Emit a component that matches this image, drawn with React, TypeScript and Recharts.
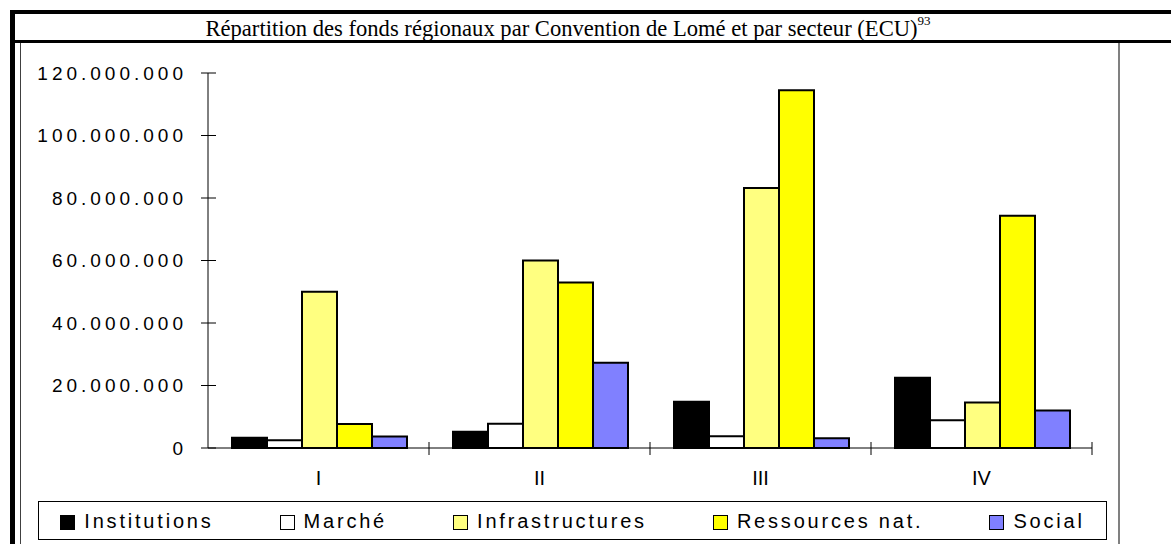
import React from 'react';
import { BarChart, Bar, XAxis, YAxis } from 'recharts';

const categories = ['I', 'II', 'III', 'IV'];
const institutions = [3300000, 5200000, 14800000, 22500000];
const marche = [2500000, 7800000, 3800000, 8900000];
const infrastructures = [50000000, 60000000, 83200000, 14600000];
const ressources = [7700000, 53000000, 114500000, 74300000];
const social = [3700000, 27300000, 3100000, 12000000];
const yTicks = [0, 20000000, 40000000, 60000000, 80000000, 100000000, 120000000];

const series = [
  { key: 'institutions', name: 'Institutions', values: institutions, color: '#000000' },
  { key: 'marche', name: 'Marché', values: marche, color: '#FFFFFF' },
  { key: 'infrastructures', name: 'Infrastructures', values: infrastructures, color: '#FFFF80' },
  { key: 'ressources', name: 'Ressources nat.', values: ressources, color: '#FFFF00' },
  { key: 'social', name: 'Social', values: social, color: '#8080FF' },
];

const data = categories.map((cat, i) => {
  const row: any = { cat };
  series.forEach((s) => { row[s.key] = s.values[i]; });
  return row;
});

const W = 1171;
const H = 544;
const PLOT_LEFT = 208;
const PLOT_RIGHT = 1092;
const PLOT_TOP = 73;
const PLOT_BOTTOM = 448;
const Y_AXIS_W = 188;
const X_AXIS_H = 30;
const BAND = (PLOT_RIGHT - PLOT_LEFT) / categories.length;

const SANS = '"Liberation Sans", Arial, sans-serif';
const SERIF = '"Liberation Serif", "Times New Roman", serif';

const fmt = (v: number) => String(v).replace(/\B(?=(\d{3})+(?!\d))/g, '.');

const YTick = (props: any) => {
  const { y, payload } = props;
  return (
    <g>
      <line x1={PLOT_LEFT - 7} x2={PLOT_LEFT + 8} y1={y} y2={y} stroke="#000" strokeWidth={1} />
      <text
        x={183 + 4}
        y={y}
        dy="0.36em"
        textAnchor="end"
        fontFamily={SANS}
        fontSize={19}
        letterSpacing={4}
        fill="#000"
      >
        {fmt(payload.value)}
      </text>
    </g>
  );
};

const XTick = (props: any) => {
  const { x, payload } = props;
  return (
    <g>
      <line x1={x + BAND / 2} x2={x + BAND / 2} y1={PLOT_BOTTOM - 6} y2={PLOT_BOTTOM + 7} stroke="#000" strokeWidth={1} />
      <text x={x} y={485} textAnchor="middle" fontFamily={SANS} fontSize={20} fill="#000">
        {payload.value}
      </text>
    </g>
  );
};

export default function App() {
  return (
    <div style={{ position: 'absolute', left: 0, top: 0, width: W, height: H, background: '#fff', overflow: 'hidden' }}>
      <svg width={W} height={H} style={{ position: 'absolute', left: 0, top: 0 }}>
        <rect x={10} y={10} width={W - 10} height={4} fill="#000" />
        <rect x={10} y={10} width={5} height={H - 10} fill="#000" />
        <rect x={15} y={40} width={W - 15} height={3} fill="#000" />
        <rect x={20} y={43} width={1} height={H - 43} fill="#404040" />
        <rect x={1118} y={43} width={2} height={H - 43} fill="#808080" />
        <text x={568} y={36} textAnchor="middle" fontFamily={SERIF} fontSize={22.6} fill="#000">
          Répartition des fonds régionaux par Convention de Lomé et par secteur (ECU)
          <tspan fontSize={13} dy={-11}>93</tspan>
        </text>
      </svg>
      <div style={{ position: 'absolute', left: 0, top: 0 }}>
        <BarChart
          width={W}
          height={H}
          data={data}
          margin={{ top: PLOT_TOP, right: W - PLOT_RIGHT, bottom: H - PLOT_BOTTOM - X_AXIS_H, left: PLOT_LEFT - Y_AXIS_W }}
          barCategoryGap={24}
          barGap={0}
        >
          <XAxis
            dataKey="cat"
            height={X_AXIS_H}
            axisLine={{ stroke: '#000', strokeWidth: 1 }}
            tickLine={false}
            tickSize={0}
            tick={<XTick />}
            interval={0}
          />
          <YAxis
            width={Y_AXIS_W}
            domain={[0, 120000000]}
            ticks={yTicks}
            axisLine={{ stroke: '#000', strokeWidth: 1 }}
            tickLine={false}
            tickSize={0}
            tick={<YTick />}
            interval={0}
          />
          {series.map((s) => (
            <Bar
              key={s.key}
              dataKey={s.key}
              name={s.name}
              fill={s.color}
              stroke="#000"
              strokeWidth={2}
              isAnimationActive={false}
            />
          ))}
        </BarChart>
      </div>
      <div
        style={{
          position: 'absolute',
          left: 38,
          top: 501,
          width: 1069,
          height: 39,
          boxSizing: 'border-box',
          border: '1px solid #000',
          display: 'flex',
          alignItems: 'center',
          justifyContent: 'center',
          gap: 66,
          fontFamily: SANS,
          fontSize: 20,
          letterSpacing: 2.8,
          color: '#000',
          background: '#fff',
        }}
      >
        {series.map((s) => (
          <div key={s.key} style={{ display: 'flex', alignItems: 'center' }}>
            <span
              style={{
                display: 'inline-block',
                width: 15,
                height: 15,
                boxSizing: 'border-box',
                border: '1.5px solid #000',
                background: s.color,
                marginRight: 9,
                marginTop: 3,
              }}
            />
            <span style={{ lineHeight: '22px' }}>{s.name}</span>
          </div>
        ))}
      </div>
    </div>
  );
}
